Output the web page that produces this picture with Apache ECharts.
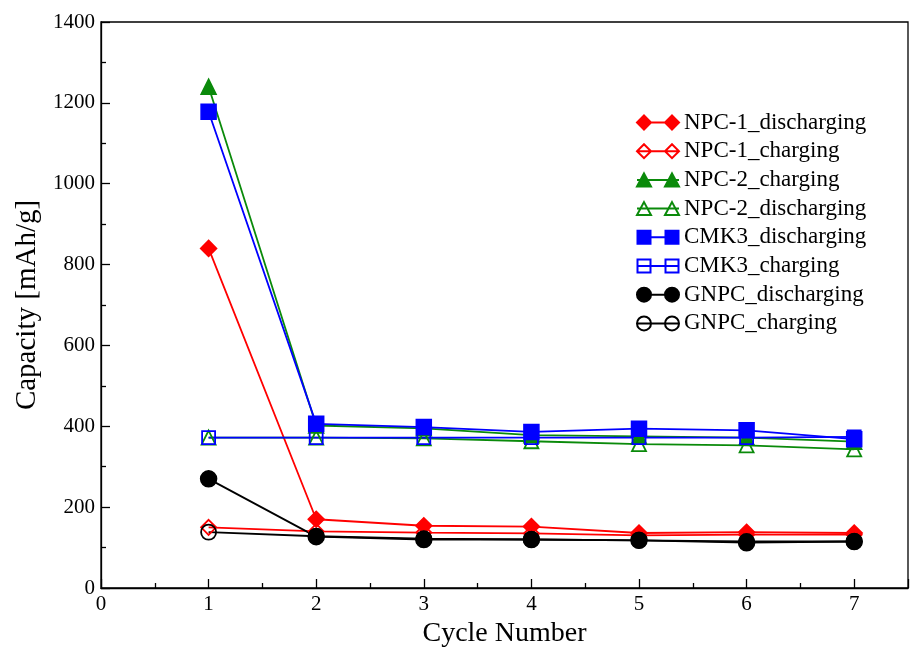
<!DOCTYPE html>
<html><head><meta charset="utf-8">
<script src="https://cdn.jsdelivr.net/npm/echarts@6/dist/echarts.min.js"></script>
<style>html,body{margin:0;padding:0;background:#fff}#c{width:911px;height:647px}</style>
</head><body><div id="c"></div>
<script>
const cycles = [1, 2, 3, 4, 5, 6, 7];
const npc1Discharging = [840, 170, 154, 152, 136, 138, 136];
const npc1Charging = [150, 140, 137, 135, 130, 132, 132];
const npc2Charging = [1240, 402, 395, 378, 375, 372, 362];
const npc2Discharging = [372, 372, 370, 363, 356, 353, 343];
const cmk3Discharging = [1178, 406, 398, 386, 394, 390, 368];
const cmk3Charging = [372, 372, 372, 372, 372, 372, 374];
const gnpcDischarging = [270, 127, 120, 120, 118, 112, 115];
const gnpcCharging = [138, 128, 122, 120, 118, 115, 115];
const seriesNames = ['NPC-1_discharging','NPC-1_charging','NPC-2_charging','NPC-2_discharging','CMK3_discharging','CMK3_charging','GNPC_discharging','GNPC_charging'];
const yTicks = [0,200,400,600,800,1000,1200,1400];

const FONT = 'Liberation Serif';
// legend icons: symbol — line — symbol
const LINE = 'M0 7 L42 7 ';
const ICONS = {
  diamond: 'path://' + LINE + 'M7 0 L14 7 L7 14 L0 7 Z M35 0 L42 7 L35 14 L28 7 Z',
  triangle: 'path://' + LINE + 'M7 0.5 L14 13.5 L0 13.5 Z M35 0.5 L42 13.5 L28 13.5 Z',
  rect: 'path://' + LINE + 'M0.5 0.5 L13.5 0.5 L13.5 13.5 L0.5 13.5 Z M28.5 0.5 L41.5 0.5 L41.5 13.5 L28.5 13.5 Z',
  circle: 'path://' + LINE + 'M0 7 A7 7 0 1 1 14 7 A7 7 0 1 1 0 7 Z M28 7 A7 7 0 1 1 42 7 A7 7 0 1 1 28 7 Z'
};
const legendItems = [];
function mk(name, vals, color, symbol, filled, size) {
  legendItems.push({ name: name, icon: ICONS[symbol] });
  return {
    name: name, type: 'line',
    data: cycles.map((c, i) => [c, vals[i]]),
    symbol: symbol, symbolSize: size,
    lineStyle: { color: color, width: 1.8 },
    itemStyle: filled ? { color: color, borderColor: color, borderWidth: 1.5 }
                      : { color: 'rgba(255,255,255,0)', borderColor: color, borderWidth: 1.8 },
    emphasis: { disabled: true },
    z: 2
  };
}
const series = [
  mk(seriesNames[0], npc1Discharging, '#ff0000', 'diamond', true, 16),
  mk(seriesNames[1], npc1Charging, '#ff0000', 'diamond', false, 15),
  mk(seriesNames[2], npc2Charging, '#0a8a0a', 'triangle', true, 15),
  mk(seriesNames[3], npc2Discharging, '#0a8a0a', 'triangle', false, 14),
  mk(seriesNames[4], cmk3Discharging, '#0000ff', 'rect', true, 15),
  mk(seriesNames[5], cmk3Charging, '#0000ff', 'rect', false, 13),
  mk(seriesNames[6], gnpcDischarging, '#000000', 'circle', true, 16),
  mk(seriesNames[7], gnpcCharging, '#000000', 'circle', false, 15)
];
const chart = echarts.init(document.getElementById('c'));
chart.setOption({
  animation: false,
  backgroundColor: '#fff',
  grid: { left: 101, right: 3, top: 22, bottom: 59, show: true, borderColor: '#000', borderWidth: 1.3, backgroundColor: 'transparent', containLabel: false, outerBoundsMode: 'none' },
  legend: {
    orient: 'vertical', left: 636, top: 111, padding: 0,
    itemWidth: 42, itemHeight: 14, itemGap: 5.7,
    textStyle: { fontFamily: FONT, fontSize: 23, lineHeight: 23, color: '#000' },
    data: legendItems
  },
  xAxis: {
    type: 'value', min: 0, max: 7.5, interval: 1,
    name: 'Cycle Number', nameLocation: 'middle', nameGap: 30,
    nameTextStyle: { fontFamily: FONT, fontSize: 28, color: '#000' },
    axisLine: { show: true, onZero: false, lineStyle: { color: '#000', width: 1.3 } },
    axisTick: { show: true, inside: true, length: 9, lineStyle: { color: '#000', width: 1.3 } },
    minorTick: { show: true, splitNumber: 2, length: 5, lineStyle: { color: '#000', width: 1.3 } },
    axisLabel: { fontFamily: FONT, fontSize: 21, color: '#000', margin: 6, formatter: v => Number.isInteger(v) ? String(v) : '' },
    splitLine: { show: false }
  },
  yAxis: {
    type: 'value', min: 0, max: 1400, interval: 200,
    name: 'Capacity [mAh/g]', nameLocation: 'middle', nameGap: 59,
    nameTextStyle: { fontFamily: FONT, fontSize: 29, color: '#000' },
    axisLine: { show: true, lineStyle: { color: '#000', width: 1.3 } },
    axisTick: { show: true, inside: true, length: 9, lineStyle: { color: '#000', width: 1.3 } },
    minorTick: { show: true, splitNumber: 2, length: 5, lineStyle: { color: '#000', width: 1.3 } },
    axisLabel: { fontFamily: FONT, fontSize: 21, color: '#000', margin: 6, formatter: v => yTicks.includes(v) ? String(v) : '' },
    splitLine: { show: false }
  },
  series: series
});
</script></body></html>
